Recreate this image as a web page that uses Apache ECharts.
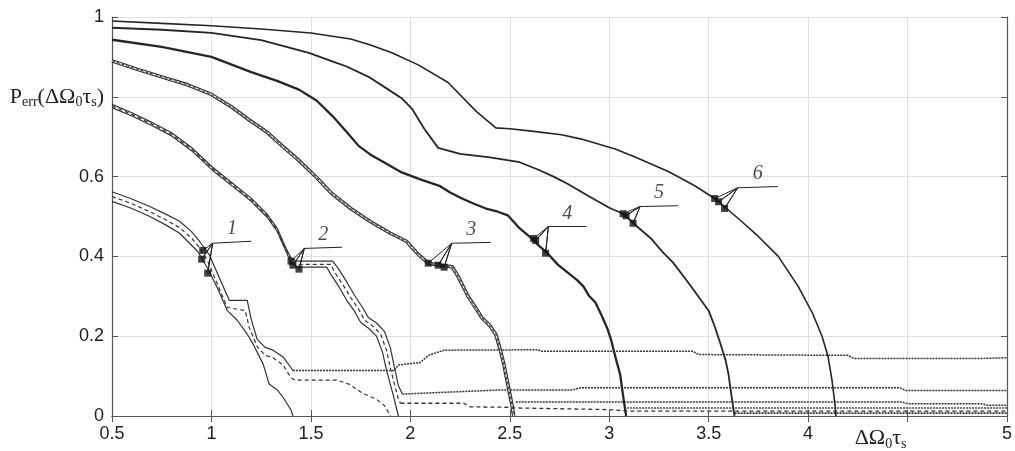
<!DOCTYPE html>
<html>
<head>
<meta charset="utf-8">
<script src="https://cdn.jsdelivr.net/npm/echarts@6/dist/echarts.min.js"></script>
<style>
  html, body { margin: 0; padding: 0; background: #fff; }
  #chart { width: 1015px; height: 451px; }
</style>
</head>
<body>
<div id="chart"></div>
<script>
// Axis ticks
const xTicks = [0.5, 1, 1.5, 2, 2.5, 3, 3.5, 4, 4.5, 5];
const yTicks = [0, 0.2, 0.4, 0.6, 0.8, 1];

// Curve 1: upper solid, middle dashed, lower solid
const g1Upper = [[0.5,0.562],[0.6,0.544],[0.69,0.525],[0.77,0.506],[0.84,0.488],[0.9,0.462],[0.94,0.438],[0.99,0.403],[1.04,0.346],[1.09,0.29],[1.18,0.29],[1.2,0.242],[1.23,0.192],[1.27,0.172],[1.31,0.165],[1.36,0.148],[1.41,0.114]];
const g1Mid = [[0.5,0.55],[0.6,0.532],[0.69,0.512],[0.77,0.492],[0.84,0.472],[0.9,0.446],[0.94,0.422],[0.98,0.39],[1.03,0.33],[1.08,0.272],[1.17,0.264],[1.19,0.222],[1.23,0.174],[1.27,0.152],[1.31,0.146],[1.36,0.128],[1.4,0.096],[1.42,0.09],[1.63,0.09],[1.69,0.08],[1.76,0.057],[1.83,0.042],[1.87,0.026],[1.9,0.0]];
const g1Lower = [[0.5,0.538],[0.6,0.52],[0.69,0.5],[0.77,0.479],[0.84,0.458],[0.93,0.413],[0.98,0.371],[1.03,0.321],[1.08,0.264],[1.13,0.24],[1.18,0.205],[1.21,0.18],[1.26,0.13],[1.29,0.08],[1.33,0.066],[1.36,0.047],[1.4,0.015],[1.41,0.0]];

// Curve 2
const g2Upper = [[0.5,0.781],[0.6,0.76],[0.7,0.736],[0.8,0.71],[0.9,0.673],[1.0,0.626],[1.1,0.586],[1.2,0.546],[1.28,0.506],[1.33,0.471],[1.37,0.426],[1.4,0.396],[1.43,0.388],[1.61,0.388],[1.64,0.368],[1.68,0.336],[1.72,0.302],[1.76,0.272],[1.79,0.246],[1.83,0.233],[1.87,0.212],[1.9,0.17],[1.92,0.122],[1.94,0.076],[1.96,0.055]];
const g2Mid = [[0.5,0.777],[0.6,0.756],[0.7,0.732],[0.8,0.706],[0.9,0.669],[1.0,0.622],[1.1,0.582],[1.2,0.542],[1.28,0.502],[1.33,0.467],[1.37,0.422],[1.4,0.39],[1.42,0.38],[1.6,0.38],[1.62,0.36],[1.66,0.33],[1.7,0.297],[1.74,0.268],[1.77,0.24],[1.81,0.226],[1.85,0.206],[1.88,0.165],[1.9,0.12],[1.92,0.08],[1.94,0.042],[1.95,0.032]];
const g2Lower = [[0.5,0.773],[0.6,0.752],[0.7,0.728],[0.8,0.702],[0.9,0.665],[1.0,0.618],[1.1,0.578],[1.2,0.538],[1.28,0.498],[1.33,0.463],[1.37,0.418],[1.4,0.385],[1.43,0.373],[1.58,0.373],[1.6,0.355],[1.64,0.325],[1.68,0.29],[1.72,0.262],[1.75,0.235],[1.79,0.22],[1.83,0.2],[1.86,0.16],[1.88,0.115],[1.91,0.06],[1.93,0.02],[1.94,0.0]];

// Curves 3 to 6
const g3 = [[0.5,0.89],[0.62,0.87],[0.75,0.85],[0.88,0.83],[1.0,0.806],[1.1,0.775],[1.19,0.742],[1.28,0.711],[1.36,0.675],[1.43,0.645],[1.53,0.597],[1.6,0.56],[1.7,0.52],[1.8,0.487],[1.9,0.458],[1.98,0.438],[2.04,0.405],[2.09,0.383],[2.15,0.378],[2.21,0.374],[2.24,0.35],[2.27,0.32],[2.29,0.3],[2.33,0.27],[2.36,0.246],[2.4,0.226],[2.43,0.204],[2.45,0.17],[2.47,0.13],[2.49,0.08],[2.51,0.03],[2.52,0.0]];
const g4 = [[0.5,0.943],[0.75,0.925],[1.0,0.9],[1.2,0.862],[1.33,0.84],[1.44,0.818],[1.53,0.79],[1.61,0.751],[1.68,0.712],[1.74,0.677],[1.8,0.655],[1.88,0.632],[1.95,0.612],[2.05,0.593],[2.15,0.576],[2.2,0.56],[2.26,0.545],[2.32,0.532],[2.38,0.52],[2.44,0.512],[2.49,0.503],[2.55,0.47],[2.61,0.445],[2.65,0.425],[2.69,0.408],[2.74,0.38],[2.79,0.36],[2.84,0.34],[2.87,0.325],[2.9,0.3],[2.93,0.285],[2.96,0.254],[2.99,0.22],[3.01,0.19],[3.03,0.15],[3.055,0.104],[3.07,0.05],[3.085,0.0]];
const g5 = [[0.5,0.973],[0.75,0.968],[1.0,0.96],[1.25,0.942],[1.49,0.91],[1.6,0.89],[1.68,0.876],[1.79,0.85],[1.89,0.818],[1.96,0.795],[2.01,0.769],[2.07,0.72],[2.14,0.672],[2.25,0.657],[2.4,0.648],[2.55,0.636],[2.65,0.616],[2.72,0.6],[2.79,0.582],[2.9,0.55],[3.0,0.522],[3.07,0.507],[3.14,0.475],[3.21,0.445],[3.27,0.41],[3.32,0.385],[3.38,0.346],[3.44,0.305],[3.5,0.264],[3.53,0.225],[3.56,0.18],[3.585,0.14],[3.6,0.104],[3.615,0.05],[3.63,0.0]];
const g6 = [[0.5,0.99],[0.75,0.984],[1.0,0.978],[1.25,0.97],[1.5,0.96],[1.7,0.945],[1.8,0.93],[1.91,0.91],[2.04,0.88],[2.19,0.836],[2.33,0.764],[2.43,0.722],[2.5,0.72],[2.61,0.714],[2.76,0.705],[2.86,0.694],[3.03,0.669],[3.13,0.649],[3.3,0.612],[3.43,0.577],[3.54,0.542],[3.66,0.49],[3.75,0.45],[3.85,0.4],[3.95,0.325],[4.02,0.26],[4.07,0.2],[4.1,0.15],[4.12,0.09],[4.135,0.03],[4.14,0.0]];

// Residual levels after each curve falls off
const tail1 = [[1.41,0.114],[1.92,0.114],[1.94,0.128],[2.05,0.134],[2.09,0.152],[2.17,0.165],[2.64,0.166],[2.66,0.162],[3.42,0.162],[3.45,0.154],[4.2,0.152],[4.23,0.144],[4.85,0.144],[5.0,0.146]];
const tail2 = [[1.96,0.055],[2.2,0.06],[2.44,0.065],[2.81,0.065],[2.86,0.071],[4.46,0.071],[4.49,0.064],[5.0,0.064]];
const tail3 = [[2.53,0.035],[4.47,0.035],[4.5,0.031],[4.87,0.031],[4.9,0.027],[5.0,0.027]];
const tail2Dash = [[1.95,0.032],[2.27,0.032],[2.3,0.023],[2.47,0.022],[2.55,0.02],[3.0,0.016],[3.1,0.012],[5.0,0.012]];
const tail4 = [[3.09,0.02],[5.0,0.02]];
const tail5 = [[3.63,0.007],[5.0,0.007]];

// Curve labels: marker points, leader join and leader end
const labelNames = ['1', '2', '3', '4', '5', '6'];
const labelMarkers = [
  [[0.956,0.415],[0.951,0.393],[0.981,0.358]],
  [[1.40,0.388],[1.41,0.378],[1.44,0.368]],
  [[2.09,0.383],[2.14,0.378],[2.17,0.373]],
  [[2.62,0.445],[2.63,0.44],[2.68,0.408]],
  [[3.07,0.507],[3.085,0.502],[3.12,0.483]],
  [[3.53,0.545],[3.55,0.537],[3.58,0.52]]
];
const leaderJoin = [[1.006,0.433],[1.467,0.42],[2.208,0.433],[2.694,0.475],[3.155,0.525],[3.646,0.572]];
const leaderEnd = [[1.2,0.438],[1.657,0.423],[2.404,0.435],[2.885,0.475],[3.346,0.527],[3.847,0.575]];

const INK = '#262626';
const serif = 'Liberation Serif, "DejaVu Serif", serif';
const sans = '"Liberation Sans", Arial, sans-serif';

function line(data, width, color, type, z) {
  return {
    type: 'line', data: data, symbol: 'none', showSymbol: false,
    silent: true, animation: false, z: z || 3, clip: true,
    lineStyle: { width: width, color: color, type: type || 'solid', cap: 'butt', join: 'round' }
  };
}

const series = [];
// residual levels
series.push(line(tail1, 1.5, '#333', [2, 1], 2));
series.push(line(tail2, 1.5, '#333', [2, 1], 2));
series.push(line(tail3, 1.5, '#333', [2, 1], 2));
series.push(line(tail2Dash, 1.3, '#333', [4, 3], 2));
series.push(line(tail4, 1.4, '#444', [2, 1], 2));
series.push(line(tail5, 1.8, '#333', [2, 1], 2));
// curve 1
series.push(line(g1Upper, 1.2, '#333'));
series.push(line(g1Mid, 1.2, '#333', [4, 3]));
series.push(line(g1Lower, 1.2, '#333'));
// curve 2
series.push(line(g2Upper, 1.2, '#333'));
series.push(line(g2Mid, 1.2, '#333', [4, 3]));
series.push(line(g2Lower, 1.2, '#333'));
// curve 3: outlined band with dashed centre
series.push(line(g3, 3.6, '#2e2e2e'));
series.push(line(g3, 1.3, '#fff', 'solid', 4));
series.push(line(g3, 1.0, '#333', [3, 2], 5));
// curves 4 to 6
series.push(line(g4, 2.3, INK));
series.push(line(g5, 1.8, INK));
series.push(line(g6, 1.6, INK));

// leader lines and markers
labelMarkers.forEach(function (pts, i) {
  const path = [];
  pts.forEach(function (p) { path.push(p, leaderJoin[i]); });
  path.push(leaderEnd[i]);
  series.push(line(path, 1, '#222', 'solid', 6));
  series.push({
    type: 'scatter', data: pts, symbol: 'rect', symbolSize: 7,
    itemStyle: { color: '#111' }, silent: true, animation: false, z: 7
  });
  const mid = [(leaderJoin[i][0] + leaderEnd[i][0]) / 2, (leaderJoin[i][1] + leaderEnd[i][1]) / 2];
  series.push({
    type: 'scatter', data: [mid], symbolSize: 0, silent: true, animation: false, z: 7,
    label: {
      show: true, position: 'top', distance: 3,
      formatter: labelNames[i],
      fontFamily: serif, fontStyle: 'italic', fontSize: 20, color: '#222'
    }
  });
});

const rich = {
  s: { fontFamily: serif, fontSize: 22, color: '#222', lineHeight: 26, verticalAlign: 'middle' },
  sub: { fontFamily: serif, fontSize: 14, color: '#222', lineHeight: 13, verticalAlign: 'bottom' },
  gap: { width: 54 }
};

const chart = echarts.init(document.getElementById('chart'), null, { renderer: 'canvas' });
chart.setOption({
  backgroundColor: '#fff',
  animation: false,
  grid: { left: 112, right: 5, top: 17, bottom: 32, containLabel: false },
  xAxis: [{
    type: 'value', min: xTicks[0], max: xTicks[xTicks.length - 1], interval: 0.5,
    axisLine: { show: true, lineStyle: { color: '#555', width: 1.2 } },
    axisTick: { show: true, inside: true, length: 6, lineStyle: { color: '#555' } },
    splitLine: { show: true, lineStyle: { color: '#e0e0e0', width: 1 } },
    axisLabel: {
      show: true, margin: 9, color: '#222', fontSize: 18, fontFamily: sans,
      rich: rich,
      formatter: function (v) {
        if (Math.abs(v - 4.5) < 1e-6) return '{s|ΔΩ}{sub|0}{s|τ}{sub|s}{gap|}';
        return String(+v.toFixed(1));
      }
    }
  }, {
    type: 'value', position: 'top', min: xTicks[0], max: xTicks[xTicks.length - 1], interval: 0.5,
    axisLine: { show: true, lineStyle: { color: '#555', width: 1.2 } },
    axisTick: { show: true, inside: true, length: 6, lineStyle: { color: '#555' } },
    splitLine: { show: false }, axisLabel: { show: false }
  }],
  yAxis: [{
    type: 'value', min: yTicks[0], max: yTicks[yTicks.length - 1], interval: 0.2,
    axisLine: { show: true, lineStyle: { color: '#555', width: 1.2 } },
    axisTick: { show: true, inside: true, length: 6, lineStyle: { color: '#555' } },
    splitLine: { show: true, lineStyle: { color: '#e0e0e0', width: 1 } },
    axisLabel: {
      show: true, margin: 8, color: '#222', fontSize: 18, fontFamily: sans,
      rich: rich,
      formatter: function (v) {
        if (Math.abs(v - 0.8) < 1e-6) return '{s|P}{sub|err}{s|(ΔΩ}{sub|0}{s|τ}{sub|s}{s|)}';
        return String(+v.toFixed(1));
      }
    }
  }, {
    type: 'value', position: 'right', min: yTicks[0], max: yTicks[yTicks.length - 1], interval: 0.2,
    axisLine: { show: true, lineStyle: { color: '#555', width: 1.2 } },
    axisTick: { show: true, inside: true, length: 6, lineStyle: { color: '#555' } },
    splitLine: { show: false }, axisLabel: { show: false }
  }],
  series: series
});
</script>
</body>
</html>
